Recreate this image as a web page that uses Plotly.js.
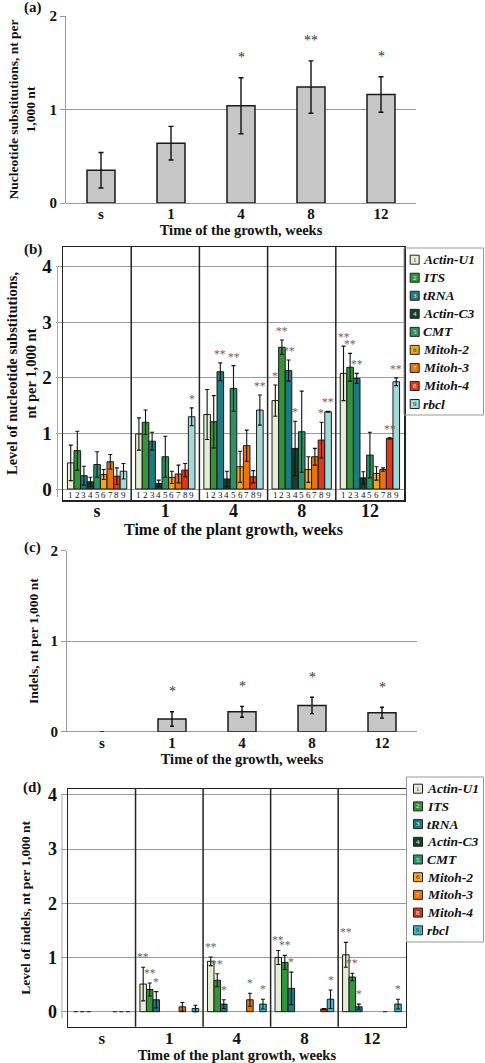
<!DOCTYPE html>
<html><head><meta charset="utf-8">
<script src="https://cdn.plot.ly/plotly-3.0.1.min.js"></script>
<style>html,body{margin:0;padding:0;background:#fff}#chart{width:485px;height:1063px}</style>
</head><body><div id="chart"></div>
<script>
// ---------- data ----------
const weeks = ['s', '1', '4', '8', '12'];

// (a) total nucleotide substitutions
const subsMean = [0.35, 0.64, 1.04, 1.24, 1.16];
const subsErr = [0.19, 0.18, 0.30, 0.28, 0.19];
const subsStars = ['', '', '*', '**', '*'];

// (c) total indels
const indelMean = [0, 0.14, 0.22, 0.29, 0.21];
const indelErr = [0, 0.08, 0.06, 0.09, 0.06];
const indelStars = ['', '*', '*', '*', '*'];

const genes = ['Actin-U1', 'ITS', 'tRNA', 'Actin-C3', 'CMT', 'Mitoh-2', 'Mitoh-3', 'Mitoh-4', 'rbcl'];
const geneColorsB = ['#e3eed4', '#35943a', '#1d7b80', '#143f2a', '#2c9262', '#f4a521', '#e9740f', '#e2381a', '#a3dad8'];
const geneColorsD = ['#e3eed4', '#35943a', '#1d7b80', '#143f2a', '#2c9262', '#f4a521', '#e9740f', '#d8321a', '#3db6cc'];
const numColors = ['#333', '#eee', '#eee', '#eee', '#eee', '#333', '#eee', '#eee', '#333'];

// (b) nucleotide substitutions per gene (rows: genes, cols: weeks)
const geneSubsMean = [
  [0.47, 0.99, 1.34, 1.59, 2.08],
  [0.69, 1.20, 1.21, 2.55, 2.19],
  [0.24, 0.86, 2.11, 2.13, 1.99],
  [0.13, 0.10, 0.18, 0.73, 0.20],
  [0.44, 0.58, 1.81, 1.03, 0.61],
  [0.26, 0.21, 0.40, 0.35, 0.28],
  [0.49, 0.27, 0.78, 0.58, 0.35],
  [0.23, 0.34, 0.22, 0.88, 0.91],
  [0.32, 1.30, 1.42, 1.39, 1.93]
];
const geneSubsErr = [
  [0.32, 0.29, 0.45, 0.28, 0.49],
  [0.35, 0.22, 0.47, 0.13, 0.25],
  [0.17, 0.16, 0.16, 0.19, 0.09],
  [0.08, 0.06, 0.14, 0.49, 0.11],
  [0.23, 0.37, 0.41, 0.73, 0.41],
  [0.09, 0.11, 0.28, 0.23, 0.12],
  [0.13, 0.16, 0.28, 0.15, 0.03],
  [0.15, 0.12, 0.11, 0.32, 0.01],
  [0.14, 0.16, 0.27, 0.01, 0.07]
];
const geneSubsStars = [
  ['', '', '', '*', '**'],
  ['', '', '', '**', '**'],
  ['', '', '**', '**', '**'],
  ['', '', '', '*', ''],
  ['', '', '**', '', ''],
  ['', '', '', '', ''],
  ['', '', '', '', ''],
  ['', '', '', '*', '**'],
  ['', '*', '**', '**', '**']
];

// (d) indels per gene
const geneIndelMean = [
  [0, 0.51, 0.93, 1.00, 1.05],
  [0, 0.41, 0.58, 0.91, 0.64],
  [0, 0.22, 0.14, 0.43, 0.09],
  [null, null, null, null, null],
  [null, null, null, null, null],
  [null, null, null, null, null],
  [0, 0.09, 0.22, null, 0],
  [0, null, null, 0.05, null],
  [0, 0.06, 0.14, 0.23, 0.14]
];
const geneIndelErr = [
  [0, 0.31, 0.08, 0.13, 0.23],
  [0, 0.12, 0.12, 0.13, 0.07],
  [0, 0.15, 0.08, 0.30, 0.05],
  [null, null, null, null, null],
  [null, null, null, null, null],
  [null, null, null, null, null],
  [0, 0.08, 0.12, null, 0],
  [0, null, null, 0.01, null],
  [0, 0.06, 0.09, 0.17, 0.09]
];
const geneIndelStars = [
  ['', '**', '**', '**', '**'],
  ['', '**', '**', '**', '**'],
  ['', '*', '*', '*', '*'],
  ['', '', '', '', ''],
  ['', '', '', '', ''],
  ['', '', '', '', ''],
  ['', '', '*', '', ''],
  ['', '', '', '', ''],
  ['', '', '*', '*', '*']
];

// ---------- layout helpers ----------
const W = 485, H = 1063;
const px = v => v / W;
const py = v => 1 - v / H;
const SERIF = '"Liberation Serif", "Times New Roman", serif';
const BARGAP = 0.13;
const NG = genes.length;
const barOffset = j => -(1 - BARGAP) / 2 + (j + 0.5) * (1 - BARGAP) / NG;
const bold = (size, color) => ({family: SERIF, size: size, weight: 'bold', color: color || '#111'});
// zero-height bars get no outline (only their error cap shows)
const outlineWidths = (vals, w) => vals.map(v => (v === 0 ? 0 : w));

const traces = [];
const annotations = [];
const shapes = [];

// (a)
traces.push({
  type: 'bar', x: weeks, y: subsMean, xaxis: 'x', yaxis: 'y', width: 0.4,
  marker: {color: '#c6c6c6', line: {color: '#1a1a1a', width: outlineWidths(subsMean, 1.5)}},
  error_y: {type: 'data', array: subsErr, visible: true, color: '#111', thickness: 1.4, width: 2.5},
  name: 'Nucleotide substitutions', showlegend: false
});
// (c)
traces.push({
  type: 'bar', x: weeks, y: indelMean, xaxis: 'x3', yaxis: 'y3', width: 0.4,
  marker: {color: '#c6c6c6', line: {color: '#1a1a1a', width: outlineWidths(indelMean, 1.5)}},
  error_y: {type: 'data', array: indelErr, visible: true, color: '#111', thickness: 1.4, width: 2},
  name: 'Indels', showlegend: false
});
weeks.forEach((w, i) => {
  if (subsStars[i]) annotations.push({xref: 'x', yref: 'y', x: i, y: subsMean[i] + subsErr[i], text: subsStars[i],
    showarrow: false, yanchor: 'middle', yshift: 20, font: {family: SERIF, size: 14, color: '#333'}});
  if (indelStars[i]) annotations.push({xref: 'x3', yref: 'y3', x: i, y: indelMean[i] + indelErr[i], text: indelStars[i],
    showarrow: false, yanchor: 'middle', yshift: 20, font: {family: SERIF, size: 14, color: '#333'}});
});

// (b) and (d)
genes.forEach((g, j) => {
  traces.push({
    type: 'bar', x: weeks, y: geneSubsMean[j], xaxis: 'x2', yaxis: 'y2', name: g,
    marker: {color: geneColorsB[j], line: {color: '#1a1a1a', width: 1}},
    error_y: {type: 'data', array: geneSubsErr[j], visible: true, color: '#111', thickness: 1.1, width: 2},
    showlegend: false
  });
  traces.push({
    type: 'bar', x: weeks, y: geneIndelMean[j], xaxis: 'x4', yaxis: 'y4', name: g,
    marker: {color: geneColorsD[j], line: {color: '#1a1a1a', width: outlineWidths(geneIndelMean[j], 1)}},
    error_y: {type: 'data', array: geneIndelErr[j], visible: true, color: '#111', thickness: 1.1, width: 2},
    showlegend: false
  });
  weeks.forEach((w, i) => {
    const xo = i + barOffset(j);
    annotations.push({xref: 'x2', yref: 'y2', x: xo, y: -0.1, text: String(j + 1), showarrow: false,
      font: {family: SERIF, size: 9, color: '#111'}});
    if (geneSubsStars[j][i]) annotations.push({xref: 'x2', yref: 'y2', x: xo,
      y: geneSubsMean[j][i] + geneSubsErr[j][i], text: geneSubsStars[j][i], showarrow: false,
      yanchor: 'middle', yshift: 9, font: {family: SERIF, size: 11.5, color: '#666'}});
    if (geneIndelStars[j][i]) annotations.push({xref: 'x4', yref: 'y4', x: xo,
      y: geneIndelMean[j][i] + geneIndelErr[j][i], text: geneIndelStars[j][i], showarrow: false,
      yanchor: 'middle', yshift: 10, font: {family: SERIF, size: 11.5, color: '#666'}});
  });
});

// group dividers in (b) and (d)
[0.5, 1.5, 2.5, 3.5].forEach(b => {
  shapes.push({type: 'line', xref: 'x2', yref: 'y2 domain', x0: b, x1: b, y0: 0, y1: 1, line: {color: '#222', width: 1.5}});
  shapes.push({type: 'line', xref: 'x4', yref: 'y4 domain', x0: b, x1: b, y0: 0, y1: 1, line: {color: '#222', width: 1.5}});
});
// faint original axis lines left of framed panels
shapes.push({type: 'line', xref: 'paper', yref: 'paper', x0: px(57.5), x1: px(57.5), y0: py(266), y1: py(497), line: {color: '#aaa', width: 1}});
shapes.push({type: 'line', xref: 'paper', yref: 'paper', x0: px(62), x1: px(62), y0: py(795), y1: py(1018), line: {color: '#aaa', width: 1}});

// manual legends
function addLegend(box, item0, step, sqX, txtX, colors) {
  shapes.push({type: 'rect', xref: 'paper', yref: 'paper', x0: px(box[0]), x1: px(box[1]), y0: py(box[3]), y1: py(box[2]),
    line: {color: '#999', width: 1}, fillcolor: 'rgba(255,255,255,0)'});
  genes.forEach((g, j) => {
    const yc = item0 + j * step;
    shapes.push({type: 'rect', xref: 'paper', yref: 'paper', x0: px(sqX - 4.5), x1: px(sqX + 4.5), y0: py(yc + 4.5), y1: py(yc - 4.5),
      line: {color: '#222', width: 1}, fillcolor: colors[j]});
    annotations.push({xref: 'paper', yref: 'paper', x: px(sqX), y: py(yc), text: String(j + 1), showarrow: false,
      xanchor: 'center', yanchor: 'middle', font: {family: SERIF, size: 7, color: numColors[j]}});
    annotations.push({xref: 'paper', yref: 'paper', x: px(txtX), y: py(yc), text: '<b><i>' + g + '</i></b>', showarrow: false,
      xanchor: 'left', yanchor: 'middle', font: {family: SERIF, size: 13.5, color: '#111'}});
  });
}
addLegend([404, 483.5, 248, 415], 259.7, 18.04, 414.7, 420.5, geneColorsB);
addLegend([406.5, 483.5, 777, 942], 788.7, 17.7, 418, 424.5, geneColorsD);

// panel letters
[['(a)', 33, 8], ['(b)', 33, 249], ['(c)', 32, 547], ['(d)', 32, 787]].forEach(p => {
  annotations.push({xref: 'paper', yref: 'paper', x: px(p[1]), y: py(p[2]), text: '<b>' + p[0] + '</b>', showarrow: false,
    xanchor: 'center', yanchor: 'middle', font: {family: SERIF, size: 15, color: '#111'}});
});

const GRID = '#9a9a9a';
const simpleY = (dom, title, tsize, standoff) => ({
  domain: dom, range: [0, 2], tickvals: [0, 1, 2], showgrid: true, gridcolor: GRID, gridwidth: 1,
  zeroline: true, zerolinecolor: GRID, zerolinewidth: 1, showline: true, linecolor: GRID, linewidth: 1,
  ticks: 'outside', ticklen: 5, tickcolor: GRID, tickfont: bold(15), fixedrange: true,
  title: {text: title, font: bold(tsize), standoff: standoff}
});
const simpleX = (dom, anchor, title) => ({
  domain: dom, anchor: anchor, type: 'category', categoryorder: 'array', categoryarray: weeks, range: [-0.5, 4.5],
  showline: false, ticks: '', showgrid: false, zeroline: false, tickfont: bold(15), fixedrange: true,
  title: {text: title, font: bold(14.5), standoff: 2}
});
const framedX = (dom, anchor, tsize, title, titleSize, lblOff) => ({
  domain: dom, anchor: anchor, type: 'category', categoryorder: 'array', categoryarray: weeks, range: [-0.5, 4.5],
  showline: true, mirror: true, linecolor: '#222', linewidth: 1.5, ticks: '', showgrid: false, zeroline: false,
  tickfont: bold(tsize), ticklabelstandoff: lblOff, fixedrange: true,
  title: {text: title, font: bold(titleSize), standoff: 0}
});
const framedY = (dom, anchor, range, tsize, title, titleSize, standoff) => ({
  domain: dom, anchor: anchor, range: range, tickvals: [0, 1, 2, 3, 4], showgrid: true, gridcolor: GRID, gridwidth: 1,
  zeroline: true, zerolinecolor: GRID, zerolinewidth: 1, showline: true, mirror: true, linecolor: '#222', linewidth: 1.5,
  ticks: 'outside', ticklen: 6, tickcolor: GRID, tickfont: bold(tsize), fixedrange: true,
  title: {text: title, font: bold(titleSize), standoff: standoff}
});

const layout = {
  width: W, height: H, margin: {l: 0, r: 0, t: 0, b: 0}, paper_bgcolor: '#fff', plot_bgcolor: 'rgba(0,0,0,0)',
  barmode: 'group', bargap: BARGAP, bargroupgap: 0, showlegend: false,
  font: {family: SERIF, color: '#111'},
  xaxis: simpleX([px(66), px(416)], 'y', 'Time of the growth, weeks'),
  yaxis: simpleY([py(203), py(16)], 'Nucleotide substitutions, nt per<br>1,000 nt', 13.5, 10),
  xaxis2: framedX([px(63), px(404)], 'y2', 18, 'Time of the plant growth, weeks', 16, -6),
  yaxis2: framedY([py(500), py(247)], 'x2', [-0.198, 4.354], 19, 'Level of nucleotide substitutions,<br>nt per 1,000 nt', 14.5, 2),
  xaxis3: simpleX([px(67), px(417)], 'y3', 'Time of the growth, weeks'),
  yaxis3: simpleY([py(731.7), py(550.7)], 'Indels, nt per 1,000 nt', 13.5, 8),
  xaxis4: framedX([px(68), px(405.7)], 'y4', 17, 'Time of the plant growth, weeks', 14.5, -5),
  yaxis4: framedY([py(1026.7), py(789)], 'x4', [-0.277, 4.11], 18, 'Level of indels, nt per 1,000 nt', 13.5, 14),
  annotations: annotations,
  shapes: shapes
};
layout.yaxis.anchor = 'x';
layout.yaxis3.anchor = 'x3';

Plotly.newPlot('chart', traces, layout, {staticPlot: true, displayModeBar: false});
</script>
</body></html>
